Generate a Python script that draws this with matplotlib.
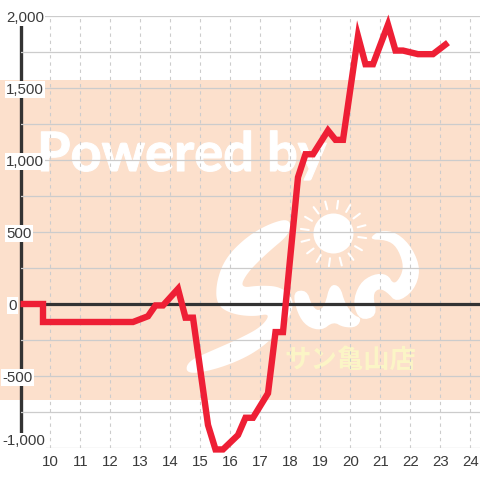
import matplotlib
matplotlib.use("Agg")
import matplotlib.pyplot as plt
import matplotlib.patheffects as pe
import numpy as np
from matplotlib.patches import Rectangle, Circle

# values
hours = [9, 9.25, 9.75, 9.75, 10.25, 10.75, 11.25, 11.75, 12.25, 12.75, 13.25, 13.5, 13.75,
         14.25, 14.5, 14.75, 15.25, 15.5, 15.75, 16.25, 16.5, 16.75, 17.25, 17.5, 17.75,
         18.25, 18.5, 18.75, 19.25, 19.5, 19.75, 20.25, 20.5, 20.75, 21.25, 21.5, 21.75,
         22.25, 22.75, 23.25]
balance = [0, 0, 0, -125, -125, -125, -125, -125, -125, -125, -85, -10, -10,
           105, -95, -95, -840, -1010, -1010, -910, -790, -790, -620, -195, -195,
           880, 1040, 1040, 1205, 1140, 1140, 1860, 1665, 1665, 1940, 1760, 1760,
           1735, 1735, 1815]
x_ticks = list(range(10, 25))
y_ticks = list(range(-1000, 2001, 250))
y_labels = {-1000: "-1,000", -500: "-500", 0: "0", 500: "500", 1000: "1,000", 1500: "1,500", 2000: "2,000"}
# left edge of each y label in pixels, they are not lined up in the original
y_label_left = {-1000: 2, -500: 2, 0: 8, 500: 6, 1000: 6, 1500: 6, 2000: 6}

plt.rcParams["font.family"] = ["Liberation Sans", "DejaVu Sans"]
TEXT = "#3a3a3a"
GRID = "#cccccc"
RED = "#ee1f35"

fig = plt.figure(figsize=(4.8, 4.8), dpi=100)

# watermark layer, in pixel coordinates
bg = fig.add_axes([0, 0, 1, 1], zorder=0)
bg.set_xlim(0, 480)
bg.set_ylim(480, 0)
bg.axis("off")
bg.add_patch(Rectangle((0, 80), 480, 320, color="#fce0cc", lw=0))
bg.text(37, 171, "Powered by", color="white", fontsize=39, family="Lato", weight="bold",
        ha="left", va="baseline", path_effects=[pe.withStroke(linewidth=0.8, foreground="white")])
bg.text(350, 360, "サン亀山店", color="#fbf5c6", fontsize=19, family="Noto Sans CJK JP", weight="bold",
        ha="center", va="center")


def smooth_logo(points, rounds=3):
    # logo outline was measured on a 3x crop starting at (190, 190), rounded off by corner cutting
    pts = np.array(points, dtype=float)
    for r in range(rounds):
        nxt = np.roll(pts, -1, axis=0)
        pts = np.column_stack([0.75 * pts + 0.25 * nxt, 0.25 * pts + 0.75 * nxt]).reshape(-1, 2)
    return 190 + pts[:, 0] / 3, 190 + pts[:, 1] / 3


s_x, s_y = smooth_logo([(300, 85), (240, 100), (170, 140), (105, 205), (78, 280), (80, 345), (125, 372),
                        (190, 380), (242, 370), (215, 410), (150, 445), (70, 480), (-10, 515), (-10, 555),
                        (90, 535), (190, 492), (262, 432), (305, 370), (310, 325), (272, 290), (210, 286),
                        (150, 294), (170, 250), (230, 190), (302, 130)])
bg.fill(s_x, s_y, color="white", lw=0)

u_x, u_y = smooth_logo([(308, 305), (322, 370), (350, 410), (395, 422), (430, 395), (460, 412), (500, 412),
                        (515, 385), (490, 375), (465, 340), (450, 288), (420, 283), (405, 345), (385, 365),
                        (365, 345), (350, 300)], rounds=2)
bg.fill(u_x, u_y, color="white", lw=0)

n_x, n_y = smooth_logo([(510, 392), (488, 340), (508, 280), (550, 252), (592, 252), (612, 285), (635, 255),
                        (640, 220), (620, 170), (590, 150), (535, 148), (570, 120), (622, 128), (668, 175),
                        (692, 240), (672, 302), (620, 338), (590, 305), (565, 295), (548, 315), (562, 378)],
                       rounds=2)
bg.fill(n_x, n_y, color="white", lw=0)

bg.add_patch(Circle((333.5, 233.5), 20, color="white", lw=0))
for angle in np.arange(0, 360, 22.5) + 8:
    a = np.radians(angle)
    bg.plot([333.5 + 25 * np.cos(a), 333.5 + 33 * np.cos(a)],
            [233.5 + 25 * np.sin(a), 233.5 + 33 * np.sin(a)], color="white", lw=1.5, solid_capstyle="round")

# chart layer
ax = fig.add_axes([20.5 / 480, 32 / 480, 459.5 / 480, 432 / 480], zorder=1)
ax.patch.set_alpha(0)
ax.set_xlim(9, 24.317)
ax.set_ylim(-1000, 2000)

ax.set_xticks(x_ticks)
ax.set_yticks(y_ticks)
ax.set_yticklabels([y_labels.get(v, "") for v in y_ticks])
ax.tick_params(axis="both", length=0, labelsize=10.8, labelcolor=TEXT)
ax.tick_params(axis="x", pad=5)
ax.grid(axis="y", color=GRID, lw=0.9)
ax.grid(axis="x", color=GRID, lw=0.8, linestyle=(0, (3, 3.5)))

for tick, v in zip(ax.yaxis.get_major_ticks(), y_ticks):
    if v in y_labels:
        tick.set_pad((20.5 - y_label_left[v]) * 0.72)
        tick.label1.set_horizontalalignment("left")
        tick.label1.set_bbox(dict(facecolor="white", edgecolor="none", pad=1))
        if v == -1000:
            tick.label1.set_verticalalignment("bottom")

for side in ["top", "right", "bottom", "left"]:
    ax.spines[side].set_visible(False)

# axis lines sit under the white label boxes
ax.plot([9, 9], [-1000, 1945], color="#333333", lw=2.4, zorder=1, clip_on=False, solid_capstyle="butt")
ax.axhline(0, color="#333333", lw=2.3, zorder=2.6)

ax.plot(hours, balance, color=RED, lw=4.6, zorder=3, clip_on=False,
        solid_capstyle="butt", solid_joinstyle="miter")

fig.savefig("out.png", dpi=100)
